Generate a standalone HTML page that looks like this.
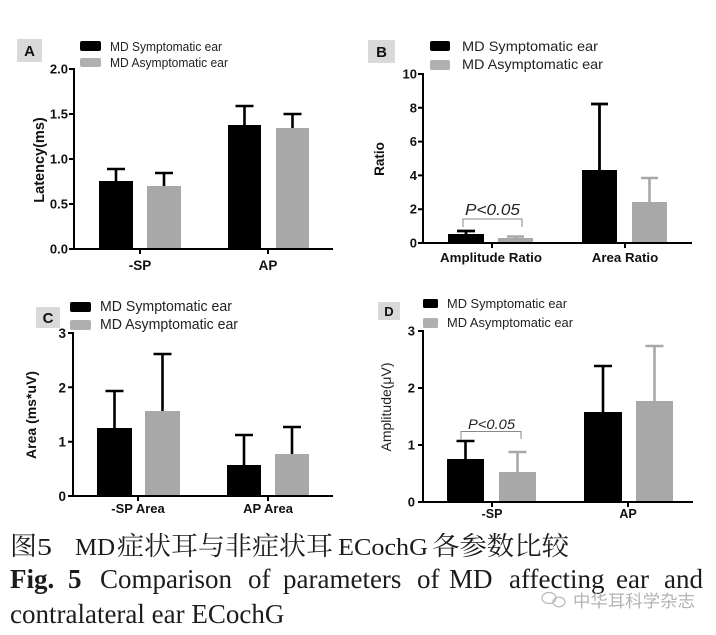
<!DOCTYPE html>
<html><head><meta charset="utf-8"><style>
html,body{margin:0;padding:0;background:#fff;}
svg{display:block;}
.t{font-family:"Liberation Sans",Arial,sans-serif;}
.b{font-weight:bold;fill:#111;}
.lg{font-family:"Liberation Sans",Arial,sans-serif;fill:#222;}
.cap{font-family:"Liberation Serif","Noto Serif CJK SC",serif;fill:#1c1c1c;}
</style></head><body>
<svg width="716" height="635" viewBox="0 0 716 635" xmlns="http://www.w3.org/2000/svg">
<rect width="716" height="635" fill="#fff"/>

<!-- ========== Panel A ========== -->
<rect x="17" y="39" width="25" height="23" fill="#d9d9d9"/>
<text x="29.5" y="56" class="t b" font-size="15" text-anchor="middle">A</text>
<rect x="80" y="41" width="21" height="10" rx="2" fill="#000"/>
<rect x="80" y="58" width="21" height="9" rx="2" fill="#b0b0b0"/>
<text x="110" y="51" class="lg" font-size="12.5" textLength="112" lengthAdjust="spacingAndGlyphs">MD Symptomatic ear</text>
<text x="110" y="67" class="lg" font-size="12.5" textLength="118" lengthAdjust="spacingAndGlyphs">MD Asymptomatic ear</text>
<rect x="99" y="181" width="34" height="68" fill="#000"/>
<rect x="147" y="186" width="34" height="63" fill="#a8a8a8"/>
<rect x="228" y="125" width="33" height="124" fill="#000"/>
<rect x="276" y="128" width="33" height="121" fill="#a8a8a8"/>
<g stroke="#000" stroke-width="2.6" fill="none">
<path d="M116 181V169M107 169H125"/>
<path d="M164 186V173M155 173H173"/>
<path d="M244.5 125V106M235.5 106H253.5"/>
<path d="M292.5 128V114M283.5 114H301.5"/>
</g>
<g stroke="#000" stroke-width="2" fill="none">
<path d="M74 68V249H333"/>
<path d="M69 69H74M69 114H74M69 159H74M69 204H74M69 249H74"/>
<path d="M140 249V254M268 249V254"/>
</g>
<g class="t b" font-size="13" text-anchor="end">
<text x="68" y="73.5">2.0</text><text x="68" y="118.5">1.5</text><text x="68" y="163.5">1.0</text><text x="68" y="208.5">0.5</text><text x="68" y="253.5">0.0</text>
</g>
<text class="t b" font-size="13.5" text-anchor="middle" x="140" y="270">-SP</text>
<text class="t b" font-size="13.5" text-anchor="middle" x="268" y="270">AP</text>
<text class="t b" font-size="14.5" text-anchor="middle" transform="translate(44,160) rotate(-90)">Latency(ms)</text>

<!-- ========== Panel B ========== -->
<rect x="368" y="40" width="27" height="23" fill="#d9d9d9"/>
<text x="381.5" y="57" class="t b" font-size="15" text-anchor="middle">B</text>
<rect x="430" y="41" width="20" height="10" rx="2" fill="#000"/>
<rect x="430" y="60" width="20" height="10" rx="2" fill="#b0b0b0"/>
<text x="462" y="51" class="lg" font-size="14" textLength="136" lengthAdjust="spacingAndGlyphs">MD Symptomatic ear</text>
<text x="462" y="69" class="lg" font-size="14" textLength="141" lengthAdjust="spacingAndGlyphs">MD Asymptomatic ear</text>
<rect x="448" y="234" width="36" height="9" fill="#000"/>
<rect x="498" y="238" width="35" height="5" fill="#a8a8a8"/>
<rect x="582" y="170" width="35" height="73" fill="#000"/>
<rect x="632" y="202" width="35" height="41" fill="#a8a8a8"/>
<g stroke="#000" stroke-width="2.8" fill="none">
<path d="M466 234V231M457 231H475"/>
<path d="M599.5 170V104M591 104H608"/>
</g>
<g stroke="#a8a8a8" stroke-width="2.6" fill="none">
<path d="M515.5 238V236.5M507 236.5H524"/>
<path d="M649.5 202V178M641 178H658"/>
</g>
<path d="M463 227V219H522V227" stroke="#888" stroke-width="1" fill="none"/>
<text x="465" y="215" class="t" font-size="15.5" font-style="italic" fill="#222" textLength="55" lengthAdjust="spacingAndGlyphs">P&lt;0.05</text>
<g stroke="#000" stroke-width="2" fill="none">
<path d="M423 73V243H692"/>
<path d="M418 74H423M418 107.8H423M418 141.6H423M418 175.4H423M418 209.2H423M418 243H423"/>
<path d="M492 243V248M625 243V248"/>
</g>
<g class="t b" font-size="13" text-anchor="end">
<text x="417" y="78.5">10</text><text x="417" y="112.3">8</text><text x="417" y="146.1">6</text><text x="417" y="179.9">4</text><text x="417" y="213.7">2</text><text x="417" y="247.5">0</text>
</g>
<text class="t b" font-size="13.3" text-anchor="middle" x="491" y="262">Amplitude Ratio</text>
<text class="t b" font-size="13.3" text-anchor="middle" x="625" y="262">Area Ratio</text>
<text class="t b" font-size="13.5" text-anchor="middle" transform="translate(384,159) rotate(-90)">Ratio</text>

<!-- ========== Panel C ========== -->
<rect x="36" y="307" width="24" height="21" fill="#d9d9d9"/>
<text x="48" y="323" class="t b" font-size="15" text-anchor="middle">C</text>
<rect x="70" y="302" width="21" height="10" rx="2" fill="#000"/>
<rect x="70" y="320" width="21" height="10" rx="2" fill="#b0b0b0"/>
<text x="100" y="311" class="lg" font-size="14.5" textLength="132" lengthAdjust="spacingAndGlyphs">MD Symptomatic ear</text>
<text x="100" y="329" class="lg" font-size="14.5" textLength="138" lengthAdjust="spacingAndGlyphs">MD Asymptomatic ear</text>
<rect x="97" y="428" width="35" height="68" fill="#000"/>
<rect x="145" y="411" width="35" height="85" fill="#a8a8a8"/>
<rect x="227" y="465" width="34" height="31" fill="#000"/>
<rect x="275" y="454" width="34" height="42" fill="#a8a8a8"/>
<g stroke="#000" stroke-width="2.6" fill="none">
<path d="M114.5 428V391M105.5 391H123.5"/>
<path d="M162.5 411V354M153.5 354H171.5"/>
<path d="M244 465V435M235 435H253"/>
<path d="M292 454V427M283 427H301"/>
</g>
<g stroke="#000" stroke-width="2" fill="none">
<path d="M73 332V496H333"/>
<path d="M68 333H73M68 387.3H73M68 441.7H73M68 496H73"/>
<path d="M138 496V501M268 496V501"/>
</g>
<g class="t b" font-size="13.5" text-anchor="end">
<text x="66" y="338">3</text><text x="66" y="392.3">2</text><text x="66" y="446.7">1</text><text x="66" y="501">0</text>
</g>
<text class="t b" font-size="13" text-anchor="middle" x="138" y="513">-SP Area</text>
<text class="t b" font-size="13" text-anchor="middle" x="268" y="513">AP Area</text>
<text class="t b" font-size="14" text-anchor="middle" transform="translate(36,415) rotate(-90)">Area (ms*uV)</text>

<!-- ========== Panel D ========== -->
<rect x="378" y="302" width="22" height="18" fill="#d9d9d9"/>
<text x="389" y="316" class="t b" font-size="13" text-anchor="middle">D</text>
<rect x="423" y="299" width="15" height="9" rx="1.5" fill="#000"/>
<rect x="423" y="318" width="15" height="10" rx="1.5" fill="#b0b0b0"/>
<text x="447" y="308" class="lg" font-size="13" textLength="120" lengthAdjust="spacingAndGlyphs">MD Symptomatic ear</text>
<text x="447" y="327" class="lg" font-size="13" textLength="126" lengthAdjust="spacingAndGlyphs">MD Asymptomatic ear</text>
<rect x="447" y="459" width="37" height="43" fill="#000"/>
<rect x="499" y="472" width="37" height="30" fill="#a8a8a8"/>
<rect x="584" y="412" width="38" height="90" fill="#000"/>
<rect x="636" y="401" width="37" height="101" fill="#a8a8a8"/>
<g stroke="#000" stroke-width="2.6" fill="none">
<path d="M465.5 459V441M456.5 441H474.5"/>
<path d="M603 412V366M594 366H612"/>
</g>
<g stroke="#a8a8a8" stroke-width="2.6" fill="none">
<path d="M517.5 472V452M508.5 452H526.5"/>
<path d="M654.5 401V346M645.5 346H663.5"/>
</g>
<path d="M461 440V431.5H521V439" stroke="#888" stroke-width="1" fill="none"/>
<text x="468" y="429" class="t" font-size="14" font-style="italic" fill="#222" textLength="47" lengthAdjust="spacingAndGlyphs">P&lt;0.05</text>
<g stroke="#000" stroke-width="2" fill="none">
<path d="M423 330V502H693"/>
<path d="M418 331H423M418 388H423M418 445H423M418 502H423"/>
<path d="M492 502V507M628 502V507"/>
</g>
<g class="t b" font-size="13" text-anchor="end">
<text x="415" y="335.5">3</text><text x="415" y="392.5">2</text><text x="415" y="449.5">1</text><text x="415" y="506.5">0</text>
</g>
<text class="t b" font-size="12.5" text-anchor="middle" x="492" y="518">-SP</text>
<text class="t b" font-size="12.5" text-anchor="middle" x="628" y="518">AP</text>
<text class="t" font-size="14" fill="#222" text-anchor="middle" transform="translate(391,407) rotate(-90)">Amplitude(μV)</text>

<!-- ========== Caption ========== -->
<text class="cap" x="10" y="555" font-size="26" textLength="27" lengthAdjust="spacingAndGlyphs">图</text>
<text class="cap" x="37" y="555" font-size="24" textLength="15" lengthAdjust="spacingAndGlyphs">5</text>
<text class="cap" x="75" y="555" font-size="24" textLength="40" lengthAdjust="spacingAndGlyphs">MD</text>
<text class="cap" x="117" y="555" font-size="26" textLength="216" lengthAdjust="spacingAndGlyphs">症状耳与非症状耳</text>
<text class="cap" x="338" y="555" font-size="24" textLength="90" lengthAdjust="spacingAndGlyphs">ECochG</text>
<text class="cap" x="432" y="555" font-size="26" textLength="137" lengthAdjust="spacingAndGlyphs">各参数比较</text>

<text class="cap" x="10" y="588" font-size="27" font-weight="bold">Fig.</text>
<text class="cap" x="68" y="588" font-size="27" font-weight="bold">5</text>
<text class="cap" x="100" y="588" font-size="27">Comparison</text>
<text class="cap" x="248" y="588" font-size="27">of</text>
<text class="cap" x="283" y="588" font-size="27">parameters</text>
<text class="cap" x="417" y="588" font-size="27">of</text>
<text class="cap" x="449" y="588" font-size="27">MD</text>
<text class="cap" x="509" y="588" font-size="27">affecting</text>
<text class="cap" x="616" y="588" font-size="27">ear</text>
<text class="cap" x="664" y="588" font-size="27">and</text>

<text class="cap" x="10" y="623" font-size="27">contralateral ear ECochG</text>

<!-- watermark -->
<g fill="none" stroke="#b8b8b8" stroke-width="1.2">
<ellipse cx="549" cy="598" rx="7" ry="5.5"/>
<ellipse cx="559" cy="602" rx="6" ry="4.8"/>
</g>
<text x="573" y="607" font-family="'Noto Sans CJK SC','WenQuanYi Zen Hei',sans-serif" font-size="17" fill="#b3b3b3" textLength="122" lengthAdjust="spacingAndGlyphs">中华耳科学杂志</text>
</svg>
</body></html>
